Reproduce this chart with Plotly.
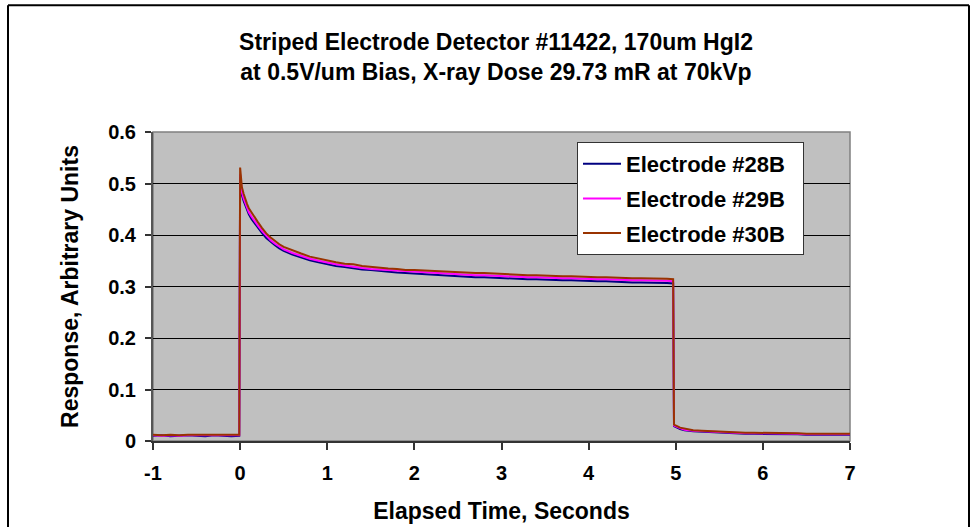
import plotly.graph_objects as go

# Elapsed time (s) sample points
T = [-1.0, -0.9, -0.8, -0.7, -0.6, -0.5, -0.4, -0.3, -0.2, -0.1, -0.01,
     0.0, 0.01, 0.02, 0.04, 0.06, 0.08, 0.10, 0.13, 0.16, 0.20, 0.25, 0.30, 0.35, 0.40, 0.45, 0.50,
     0.60, 0.70, 0.80, 0.90, 1.00,
     1.1, 1.2, 1.3, 1.4, 1.5, 1.6, 1.7, 1.8, 1.9, 2.0,
     2.1, 2.2, 2.3, 2.4, 2.5, 2.6, 2.7, 2.8, 2.9, 3.0,
     3.1, 3.2, 3.3, 3.4, 3.5, 3.6, 3.7, 3.8, 3.9, 4.0,
     4.1, 4.2, 4.3, 4.4, 4.5, 4.6, 4.7, 4.8, 4.9, 4.97,
     4.98, 5.05, 5.1, 5.2, 5.3, 5.4, 5.5, 5.6, 5.7, 5.8, 5.9, 6.0,
     6.1, 6.2, 6.3, 6.4, 6.5, 6.6, 6.7, 6.8, 6.9, 7.0]

E28B = [0.010, 0.011, 0.009, 0.010, 0.011, 0.010, 0.009, 0.011, 0.010, 0.009, 0.010,
        0.512, 0.490, 0.478, 0.466, 0.456, 0.447, 0.440, 0.431, 0.424, 0.415, 0.404, 0.394, 0.386, 0.380, 0.374, 0.369,
        0.362, 0.356, 0.351, 0.347, 0.343,
        0.340, 0.338, 0.335, 0.333, 0.332, 0.330, 0.328, 0.327, 0.326, 0.325,
        0.324, 0.322, 0.322, 0.321, 0.320, 0.319, 0.318, 0.318, 0.317, 0.316,
        0.316, 0.315, 0.314, 0.314, 0.313, 0.313, 0.312, 0.312, 0.311, 0.311,
        0.310, 0.310, 0.309, 0.309, 0.308, 0.308, 0.308, 0.307, 0.307, 0.306,
        0.029, 0.023, 0.021, 0.019, 0.018, 0.017, 0.016, 0.015, 0.015, 0.014, 0.014, 0.014,
        0.013, 0.013, 0.013, 0.013, 0.012, 0.012, 0.012, 0.012, 0.012, 0.012]

E29B = [0.011, 0.010, 0.011, 0.010, 0.011, 0.011, 0.010, 0.011, 0.010, 0.011, 0.011,
        0.518, 0.496, 0.484, 0.471, 0.461, 0.452, 0.444, 0.436, 0.428, 0.419, 0.408, 0.398, 0.390, 0.383, 0.377, 0.372,
        0.365, 0.359, 0.354, 0.350, 0.346,
        0.343, 0.341, 0.338, 0.336, 0.334, 0.333, 0.331, 0.330, 0.329, 0.328,
        0.327, 0.326, 0.325, 0.325, 0.324, 0.323, 0.322, 0.322, 0.321, 0.320,
        0.320, 0.319, 0.318, 0.318, 0.317, 0.317, 0.316, 0.316, 0.315, 0.315,
        0.314, 0.314, 0.313, 0.313, 0.312, 0.312, 0.312, 0.311, 0.311, 0.310,
        0.030, 0.025, 0.022, 0.020, 0.019, 0.018, 0.017, 0.016, 0.016, 0.015, 0.015, 0.015,
        0.014, 0.014, 0.014, 0.014, 0.013, 0.013, 0.013, 0.013, 0.013, 0.013]

E30B = [0.012, 0.011, 0.012, 0.011, 0.012, 0.012, 0.011, 0.012, 0.011, 0.012, 0.012,
        0.531, 0.505, 0.493, 0.480, 0.469, 0.460, 0.452, 0.444, 0.435, 0.426, 0.414, 0.403, 0.395, 0.388, 0.382, 0.377,
        0.370, 0.364, 0.358, 0.354, 0.350,
        0.347, 0.344, 0.343, 0.340, 0.338, 0.337, 0.335, 0.334, 0.332, 0.332,
        0.331, 0.330, 0.329, 0.329, 0.328, 0.327, 0.326, 0.326, 0.325, 0.324,
        0.324, 0.323, 0.322, 0.322, 0.321, 0.321, 0.320, 0.320, 0.319, 0.319,
        0.318, 0.318, 0.317, 0.317, 0.316, 0.316, 0.316, 0.315, 0.315, 0.314,
        0.032, 0.026, 0.024, 0.021, 0.020, 0.019, 0.018, 0.017, 0.017, 0.016, 0.016, 0.016,
        0.015, 0.015, 0.015, 0.015, 0.014, 0.014, 0.014, 0.014, 0.014, 0.014]

SERIES = [("Electrode #28B", E28B, "#000080"),
          ("Electrode #29B", E29B, "#FF00FF"),
          ("Electrode #30B", E30B, "#993300")]

X_TICKS = [-1, 0, 1, 2, 3, 4, 5, 6, 7]
Y_TICKS = [0, 0.1, 0.2, 0.3, 0.4, 0.5, 0.6]
Y_LABELS = ["0", "0.1", "0.2", "0.3", "0.4", "0.5", "0.6"]

FONT = "Liberation Sans, Arial, sans-serif"
NB = "\u00a0"

fig = go.Figure()
for i, (name, vals, col) in enumerate(SERIES):
    fig.add_trace(go.Scatter(x=T, y=vals, mode="lines", name=name + NB * 2,
                             legendgroup=f"g{i}",
                             line=dict(color=col, width=2)))

L, R, TOP, B = 153, 123, 132, 85.5
PW = 973 - L - R
PH = 527 - TOP - B

def px_x(p):
    return (p - L) / PW

def px_y(p):
    return (527 - B - p) / PH

fig.update_layout(
    width=973, height=527,
    margin=dict(l=L, r=R, t=TOP, b=B, pad=0, autoexpand=False),
    paper_bgcolor="white", plot_bgcolor="#C0C0C0",
    font=dict(family=FONT, color="black", size=20, weight="bold"),
    title=dict(text="Striped Electrode Detector #11422, 170um HgI2<br>at 0.5V/um Bias, X-ray Dose 29.73 mR at 70kVp",
               x=496 / 973, xanchor="center", y=1 - 50 / 527, yanchor="middle",
               font=dict(size=23, family=FONT, weight="bold")),
    showlegend=True,
    legend=dict(x=px_x(577), xanchor="left", y=px_y(142), yanchor="top",
                bgcolor="white", bordercolor="#333333", borderwidth=1,
                font=dict(size=22, family=FONT, weight="bold"),
                tracegroupgap=3, itemwidth=38),
    xaxis=dict(range=[-1, 7], tickvals=X_TICKS, ticktext=[str(v) for v in X_TICKS],
               showgrid=False, zeroline=False, automargin=False,
               showline=True, linecolor="#333333", linewidth=2,
               ticks="outside", ticklen=7, tickwidth=1.5, tickcolor="#333333",
               ticklabelstandoff=6,
               tickfont=dict(size=20, family=FONT, weight="bold"),
               title=dict(text="Elapsed Time, Seconds", standoff=20,
                          font=dict(size=23, family=FONT, weight="bold"))),
    yaxis=dict(range=[0, 0.6], tickvals=Y_TICKS, ticktext=Y_LABELS,
               showgrid=True, gridcolor="#000000", gridwidth=1,
               zeroline=False, automargin=False,
               showline=True, linecolor="#555555", linewidth=2,
               ticks="outside", ticklen=6, tickwidth=1.5, tickcolor="#333333",
               ticklabelstandoff=5,
               tickfont=dict(size=20, family=FONT, weight="bold"),
               title=dict(text="Response, Arbitrary Units", standoff=23,
                          font=dict(size=23, family=FONT, weight="bold"))),
    shapes=[
        dict(type="rect", xref="paper", yref="paper", x0=0, x1=1, y0=0, y1=1,
             line=dict(color="#808080", width=1.5), layer="below"),
        dict(type="line", xref="paper", yref="paper",
             x0=px_x(8), x1=px_x(8), y0=px_y(5), y1=px_y(540),
             line=dict(color="black", width=2)),
        dict(type="line", xref="paper", yref="paper",
             x0=px_x(8), x1=px_x(969), y0=px_y(5), y1=px_y(5),
             line=dict(color="black", width=2)),
        dict(type="line", xref="paper", yref="paper",
             x0=px_x(969), x1=px_x(969), y0=px_y(5), y1=px_y(540),
             line=dict(color="black", width=2)),
    ],
)

fig.write_html("out.html", config={"displayModeBar": False},
               post_script="document.body.style.margin='0';document.body.style.overflow='hidden';")
